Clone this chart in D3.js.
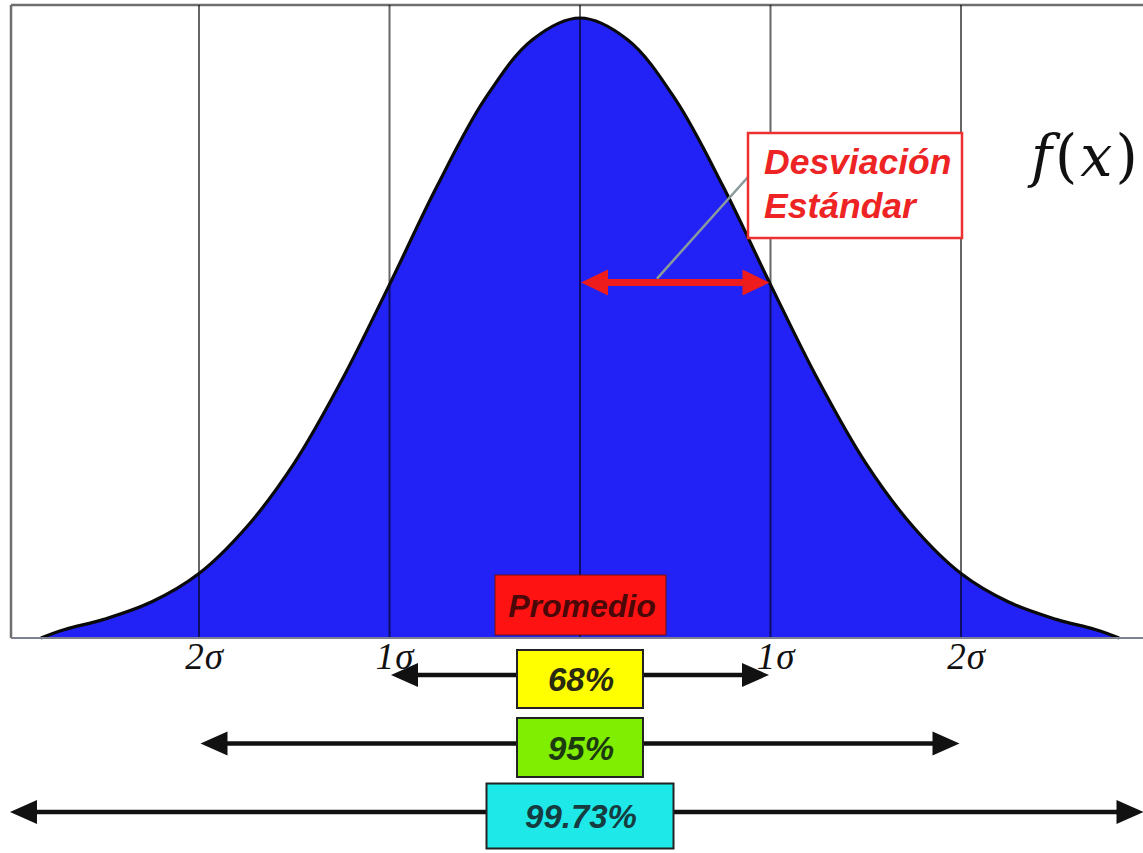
<!DOCTYPE html>
<html>
<head>
<meta charset="utf-8">
<script src="https://cdn.jsdelivr.net/npm/d3@7"></script>
<style>
  html, body { margin: 0; padding: 0; background: #fff; overflow: hidden; }
</style>
</head>
<body>
<svg id="chart" width="1143" height="853"></svg>
<script>
// Curve: position in sigma units and height relative to the peak
var curveSigma   = [-2.83, -2.7, -2.5, -2.25, -2.0, -1.75, -1.5, -1.25, -1.0, -0.75, -0.5, -0.25, 0,
                    0.25, 0.5, 0.75, 1.0, 1.25, 1.5, 1.75, 2.0, 2.25, 2.5, 2.7, 2.83];
var curveHeight  = [0.0, 0.014, 0.03, 0.058, 0.104, 0.179, 0.282, 0.416, 0.57, 0.729, 0.869, 0.965, 1.0,
                    0.965, 0.869, 0.729, 0.57, 0.416, 0.282, 0.179, 0.104, 0.058, 0.03, 0.014, 0.0];

// Vertical guide lines and their labels
var gridSigma    = [-2, -1, 0, 1, 2];
var tickSigma    = [-2, -1, 1, 2];
var tickLabels   = ["2σ", "1σ", "1σ", "2σ"];

// Coverage ranges under the curve
var rangeLabels  = ["68%", "95%", "99.73%"];
var rangeSigma   = [1, 2, 3];

var meanLabel    = "Promedio";
var sdLabel      = ["Desviación", "Estándar"];
var sdSigma      = 1;

var svg = d3.select("#chart");

var x = d3.scaleLinear().domain([-3, 3]).range([8.5, 1151.5]);
var y = d3.scaleLinear().domain([0, 1]).range([638, 18]);
var rowY = d3.scalePoint().domain(rangeLabels).range([675, 812]);

var boxFill = { "68%": "#ffff00", "95%": "#80ee00", "99.73%": "#1ee8e8" };
var boxText = { "68%": "#2a2a10", "95%": "#1c3a10", "99.73%": "#163c40" };
var boxWidth = { "68%": 126, "95%": 126, "99.73%": 187 };
var boxHeight = { "68%": 58, "95%": 59, "99.73%": 65 };

var points = curveSigma.map(function(s, i) { return { s: s, h: curveHeight[i] }; });

// Plot frame (left, top)
var frame = svg.append("g").attr("stroke", "#6e6e6e").attr("stroke-width", 2.5).attr("fill", "none");
frame.append("line").attr("x1", 11).attr("x2", 11).attr("y1", 5).attr("y2", y(0));
frame.append("line").attr("x1", 11).attr("x2", 1143).attr("y1", 5).attr("y2", 5);

// Blue area
var area = d3.area()
	.x(function(d) { return x(d.s); })
	.y0(y(0))
	.y1(function(d) { return y(d.h); })
	.curve(d3.curveCatmullRom);
svg.append("path")
	.datum(points)
	.attr("d", area)
	.attr("fill", "#2222f6");

// Guide lines (semi transparent so they go navy over the blue)
svg.append("g").selectAll("line")
	.data(gridSigma)
	.enter().append("line")
		.attr("x1", function(d) { return x(d); })
		.attr("x2", function(d) { return x(d); })
		.attr("y1", 5)
		.attr("y2", y(0))
		.attr("stroke", "#000")
		.attr("stroke-opacity", 0.6)
		.attr("stroke-width", 2);

// Outline of curve
var line = d3.line()
	.x(function(d) { return x(d.s); })
	.y(function(d) { return y(d.h); })
	.curve(d3.curveCatmullRom);
svg.append("path")
	.datum(points)
	.attr("d", line)
	.attr("fill", "none")
	.attr("stroke", "#0a0a0a")
	.attr("stroke-width", 3.2);

// Baseline
svg.append("line")
	.attr("x1", 11).attr("x2", 1143)
	.attr("y1", y(0)).attr("y2", y(0))
	.attr("stroke", "#7c8090").attr("stroke-width", 2);

// Sigma labels
var axis = d3.axisBottom(x)
	.tickValues(tickSigma)
	.tickSize(0)
	.tickFormat(function(d, i) { return tickLabels[i]; });
var axisG = svg.append("g")
	.attr("transform", "translate(5," + y(0) + ")")
	.call(axis);
axisG.select(".domain").remove();
axisG.selectAll("text")
	.attr("dy", 0)
	.attr("y", 31)
	.style("font-family", "'Liberation Serif', 'Times New Roman', serif")
	.style("font-style", "italic")
	.style("font-size", "37px")
	.style("letter-spacing", "1px")
	.style("fill", "#111");

// Promedio box
var promW = 171, promH = 60;
svg.append("rect")
	.attr("x", x(0) - promW / 2 + 0.5)
	.attr("y", y(0) - 63)
	.attr("width", promW)
	.attr("height", promH)
	.attr("fill", "#ff1212")
	.attr("stroke", "#6a1010")
	.attr("stroke-width", 1);
svg.append("text")
	.attr("x", x(0) + 2)
	.attr("y", y(0) - 21)
	.attr("text-anchor", "middle")
	.style("font-family", "'Liberation Sans', Arial, sans-serif")
	.style("font-style", "italic")
	.style("font-weight", "bold")
	.style("font-size", "32px")
	.style("fill", "#4a0808")
	.text(meanLabel);

// Standard deviation arrow + leader + label box
var sdY = y(curveHeight[curveSigma.indexOf(sdSigma)]) - 2;
svg.append("line")
	.attr("x1", 657).attr("y1", sdY - 4)
	.attr("x2", 748).attr("y2", 177)
	.attr("stroke", "#8a9a9c")
	.attr("stroke-width", 2.5);

function arrowHead(g, tipX, yy, dir, len, half, color) {
	g.append("path")
		.attr("d", "M" + tipX + "," + yy +
			"L" + (tipX + dir * len) + "," + (yy - half) +
			"L" + (tipX + dir * len) + "," + (yy + half) + "Z")
		.attr("fill", color);
}

var sdG = svg.append("g");
sdG.append("line")
	.attr("x1", x(0) + 20).attr("x2", x(sdSigma) - 20)
	.attr("y1", sdY).attr("y2", sdY)
	.attr("stroke", "#ee1c1c").attr("stroke-width", 7);
arrowHead(sdG, x(0) + 1, sdY, 1, 27, 13, "#ee1c1c");
arrowHead(sdG, x(sdSigma) - 1, sdY, -1, 27, 13, "#ee1c1c");

svg.append("rect")
	.attr("x", 748).attr("y", 133)
	.attr("width", 214).attr("height", 105)
	.attr("fill", "#fff")
	.attr("stroke", "#ee3030")
	.attr("stroke-width", 2.5);
svg.selectAll(".sdtext")
	.data(sdLabel)
	.enter().append("text")
		.attr("class", "sdtext")
		.attr("x", 764)
		.attr("y", function(d, i) { return 174 + i * 44; })
		.style("font-family", "'Liberation Sans', Arial, sans-serif")
		.style("font-style", "italic")
		.style("font-weight", "bold")
		.style("font-size", "35.5px")
		.style("fill", "#ee2424")
		.text(function(d) { return d; });

// Coverage arrows with boxes
var rows = svg.selectAll(".range")
	.data(rangeLabels)
	.enter().append("g")
		.attr("class", "range");

rows.each(function(d, i) {
	var g = d3.select(this);
	var yy = rowY(d);
	var s = rangeSigma[i];
	var left = x(-s) + 1.5;
	var right = x(s) - (s == 3 ? 8 : 1.5);
	g.append("line")
		.attr("x1", left + 20).attr("x2", right - 20)
		.attr("y1", yy).attr("y2", yy)
		.attr("stroke", "#111").attr("stroke-width", 4.5);
	arrowHead(g, left, yy, 1, 27, 12, "#111");
	arrowHead(g, right, yy, -1, 27, 12, "#111");
	var w = boxWidth[d], h = boxHeight[d];
	g.append("rect")
		.attr("x", x(0) - w / 2)
		.attr("y", yy - h / 2 + 4)
		.attr("width", w)
		.attr("height", h)
		.attr("fill", boxFill[d])
		.attr("stroke", "#222")
		.attr("stroke-width", 2);
	g.append("text")
		.attr("x", x(0) + 1)
		.attr("y", yy + 16)
		.attr("text-anchor", "middle")
		.style("font-family", "'Liberation Sans', Arial, sans-serif")
		.style("font-style", "italic")
		.style("font-weight", "bold")
		.style("font-size", "33px")
		.style("fill", boxText[d])
		.text(d);
});

// f(x) pasted on the right
var fx = svg.append("text")
	.attr("x", 1031)
	.attr("y", 176)
	.style("font-family", "'DejaVu Serif', 'Liberation Serif', serif")
	.style("font-size", "57px")
	.style("letter-spacing", "3px")
	.style("fill", "#111");
fx.append("tspan").style("font-style", "italic").text("f");
fx.append("tspan").text("(");
fx.append("tspan").style("font-style", "italic").text("x");
fx.append("tspan").text(")");
</script>
</body>
</html>
